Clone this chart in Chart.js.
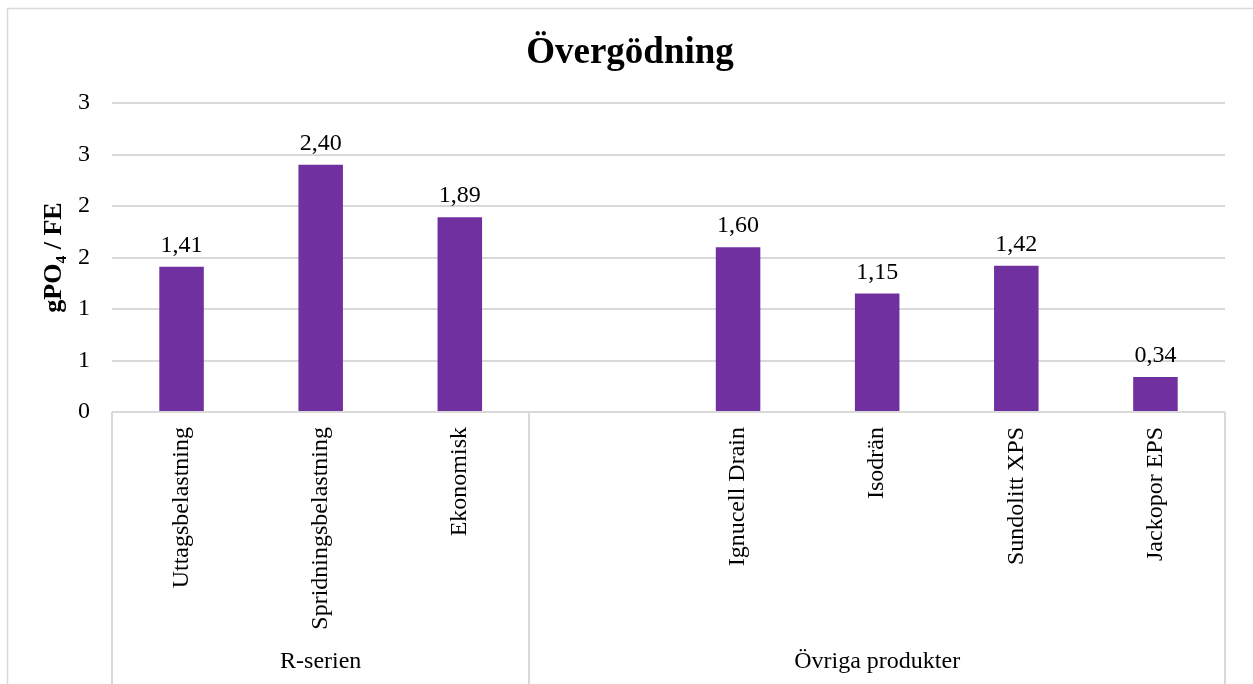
<!DOCTYPE html>
<html>
<head>
<meta charset="utf-8">
<title>Övergödning</title>
<script src="https://cdn.jsdelivr.net/npm/chart.js@4/dist/chart.umd.min.js"></script>
<style>
    html, body { margin: 0; padding: 0; background: #fff; }
    #wrap { width: 1253px; height: 684px; position: relative; }
</style>
</head>
<body>
<div id="wrap"><canvas id="chart"></canvas></div>
<script>
// data
let categories = ['Uttagsbelastning', 'Spridningsbelastning', 'Ekonomisk', '', 'Ignucell Drain', 'Isodrän', 'Sundolitt XPS', 'Jackopor EPS']
let values = [1.41, 2.40, 1.89, null, 1.60, 1.15, 1.42, 0.34]
let groups = ['R-serien', 'Övriga produkter']
let groupSizes = [3, 5]

let serif = "'Liberation Serif', 'Times New Roman', serif"
let lineGrey = '#d9d9d9'

// swedish number format for the labels above the bars
function fmt(v) {
    return v.toFixed(2).replace('.', ',')
}

// title, frame, value labels and the grouped category axis
let extras = {
    id: 'extras',
    afterDraw(chart) {
        let ctx = chart.ctx
        let x = chart.scales.x
        let area = chart.chartArea
        let h = chart.height

        ctx.save()

        // frame (only left and top are visible)
        ctx.strokeStyle = lineGrey
        ctx.lineWidth = 1.5
        ctx.beginPath()
        ctx.moveTo(7.5, h)
        ctx.lineTo(7.5, 8.5)
        ctx.lineTo(chart.width, 8.5)
        ctx.stroke()

        // title
        ctx.fillStyle = '#000'
        ctx.font = 'bold 37px ' + serif
        ctx.textAlign = 'center'
        ctx.textBaseline = 'alphabetic'
        ctx.fillText('Övergödning', 630, 63)

        // value labels
        ctx.font = '24px ' + serif
        let meta = chart.getDatasetMeta(0)
        meta.data.forEach(function(bar, i) {
            if (values[i] == null) return
            ctx.fillText(fmt(values[i]), bar.x, bar.y - 15)
        })

        // group boundaries and names
        let slot = x.width / categories.length
        ctx.strokeStyle = lineGrey
        ctx.lineWidth = 2
        let start = 0
        let bounds = [x.left]
        groupSizes.forEach(function(n, g) {
            let left = x.left + start * slot
            let right = x.left + (start + n) * slot
            bounds.push(right)
            ctx.fillText(groups[g], (left + right) / 2, 668)
            start += n
        })
        bounds.forEach(function(bx) {
            ctx.beginPath()
            ctx.moveTo(Math.round(bx), area.bottom)
            ctx.lineTo(Math.round(bx), h)
            ctx.stroke()
        })

        ctx.restore()
    }
}

let ctx = document.getElementById('chart')
let chart = new Chart(ctx, {
    type: 'bar',
    data: {
        labels: categories,
        datasets: [{
            data: values,
            backgroundColor: '#7030a0',
            barPercentage: 0.32,
            categoryPercentage: 1
        }]
    },
    options: {
        responsive: true,
        maintainAspectRatio: false,
        animation: false,
        layout: {
            padding: { top: 103, right: 28, bottom: 0, left: 0 }
        },
        plugins: {
            legend: { display: false },
            title: { display: false },
            tooltip: { enabled: false }
        },
        scales: {
            x: {
                grid: { display: false },
                border: { display: false },
                ticks: {
                    autoSkip: false,
                    minRotation: 90,
                    maxRotation: 90,
                    padding: 7,
                    color: '#000',
                    font: { family: serif, size: 24 }
                },
                afterFit(scale) {
                    scale.height = 272
                }
            },
            y: {
                min: 0,
                max: 3,
                ticks: {
                    stepSize: 0.5,
                    padding: 22,
                    color: '#000',
                    font: { family: serif, size: 24 },
                    callback: function(v) { return Math.round(v) }
                },
                grid: {
                    color: lineGrey,
                    lineWidth: 2,
                    drawTicks: false
                },
                border: { display: false },
                title: {
                    display: true,
                    text: 'gPO₄ / FE',
                    color: '#000',
                    font: { family: serif, size: 26, weight: 'bold' },
                    padding: { top: 39, bottom: 0 }
                },
                afterFit(scale) {
                    scale.width = 112
                }
            }
        }
    },
    plugins: [extras]
})
</script>
</body>
</html>
